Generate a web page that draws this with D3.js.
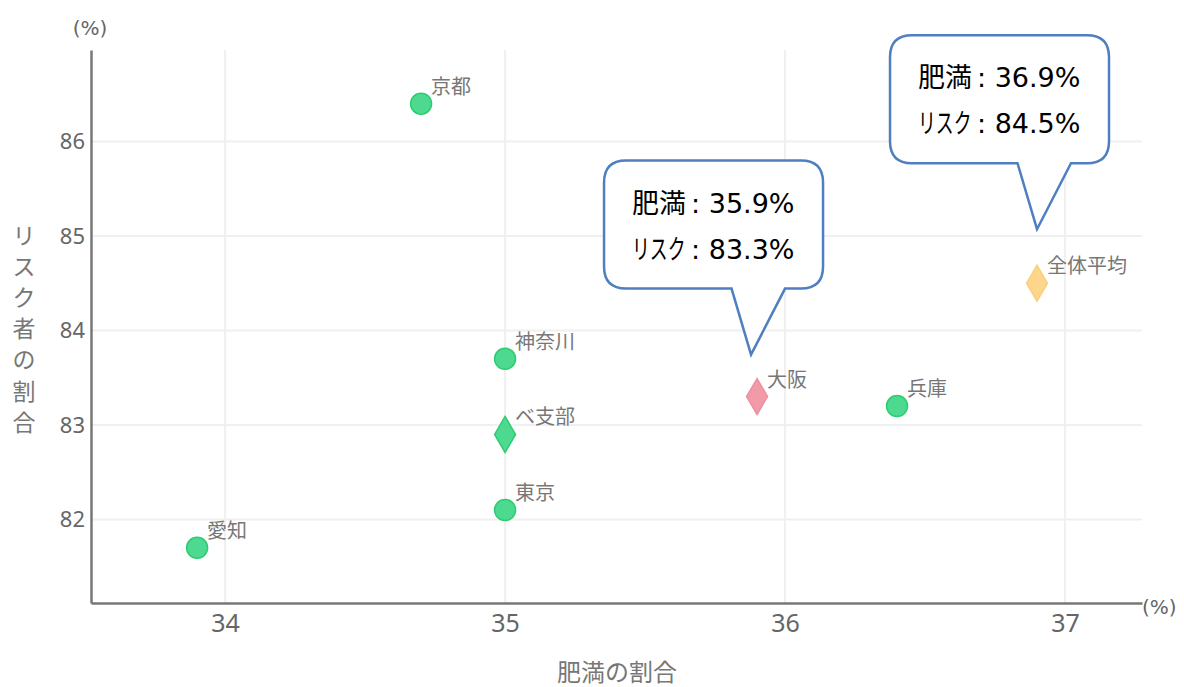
<!DOCTYPE html>
<html>
<head>
<meta charset="utf-8">
<script src="https://d3js.org/d3.v7.min.js"></script>
<style>
  body { margin: 0; background: #fff; }
  text { font-family: "Noto Sans CJK JP", "Noto Sans", sans-serif; }
</style>
</head>
<body>
<script>
// data
const names   = ['愛知', '京都', '神奈川', 'ベ支部', '東京', '大阪', '兵庫', '全体平均'];
const obesity = [33.9, 34.7, 35.0, 35.0, 35.0, 35.9, 36.4, 36.9];
const risk    = [81.7, 86.4, 83.7, 82.9, 82.1, 83.3, 83.2, 84.5];
const shapes  = ['circle', 'circle', 'circle', 'diamond', 'circle', 'diamond', 'circle', 'diamond'];
const fills   = ['#4dd990', '#4dd990', '#4dd990', '#4dd990', '#4dd990', '#f29ba8', '#4dd990', '#fdd68c'];
const strokes = ['#2ecc71', '#2ecc71', '#2ecc71', '#2ecc71', '#2ecc71', '#ee8fa0', '#2ecc71', '#fbcf80'];
const xTicks  = [34, 35, 36, 37];
const yTicks  = [82, 83, 84, 85, 86];
const callouts = ['大阪', '全体平均'];

const data = names.map((n, i) => ({name: n, x: obesity[i], y: risk[i], shape: shapes[i], fill: fills[i], stroke: strokes[i]}));

const width = 1184, height = 687;
const pLeft = 91, pRight = 1142, pTop = 50, pBottom = 603;

const svg = d3.select('body').append('svg')
  .attr('width', width).attr('height', height);

const x = d3.scaleLinear().domain([33.521, 37.275]).range([pLeft, pRight]);
const y = d3.scaleLinear().domain([81.116, 86.968]).range([pBottom, pTop]);

// grid
svg.append('g').selectAll('line').data(xTicks).enter().append('line')
  .attr('x1', d => x(d)).attr('x2', d => x(d))
  .attr('y1', pTop).attr('y2', pBottom)
  .attr('stroke', '#f0f0f0').attr('stroke-width', 2);
svg.append('g').selectAll('line').data(yTicks).enter().append('line')
  .attr('x1', pLeft).attr('x2', pRight)
  .attr('y1', d => y(d)).attr('y2', d => y(d))
  .attr('stroke', '#f0f0f0').attr('stroke-width', 2);

// axes
const xAxis = d3.axisBottom(x).tickValues(xTicks).tickFormat(d3.format('d')).tickSize(0).tickPadding(10);
const yAxis = d3.axisLeft(y).tickValues(yTicks).tickFormat(d3.format('d')).tickSize(0).tickPadding(6);

const gx = svg.append('g').attr('transform', `translate(0,${pBottom})`).call(xAxis);
const gy = svg.append('g').attr('transform', `translate(${pLeft},0)`).call(yAxis);
[gx, gy].forEach(g => {
  g.select('.domain').attr('stroke', '#777').attr('stroke-width', 2.5);
  g.selectAll('text').attr('fill', '#666')
    .style('font-family', '"Noto Sans", sans-serif');
});
gx.selectAll('text').style('font-size', '25px').attr('dy', '0.75em');
gy.selectAll('text').style('font-size', '22px');

// unit labels
svg.append('text').attr('x', 90).attr('y', 35).attr('text-anchor', 'middle')
  .attr('fill', '#666').style('font-size', '20px').style('font-family', '"DejaVu Sans", sans-serif').text('(%)');
svg.append('text').attr('x', 1142).attr('y', 614)
  .attr('fill', '#666').style('font-size', '20px').style('font-family', '"DejaVu Sans", sans-serif').text('(%)');

// axis titles
svg.append('text').attr('x', 617).attr('y', 681).attr('text-anchor', 'middle')
  .attr('fill', '#777').style('font-size', '24px').text('肥満の割合');
const yTitle = 'リスク者の割合'.split('');
svg.append('g').selectAll('text').data(yTitle).enter().append('text')
  .attr('x', 24).attr('y', (d, i) => 244 + i * 31.1)
  .attr('text-anchor', 'middle')
  .attr('fill', '#777').style('font-size', '23px').text(d => d);

// points
const pts = svg.append('g');
pts.selectAll('circle').data(data.filter(d => d.shape === 'circle')).enter().append('circle')
  .attr('cx', d => x(d.x)).attr('cy', d => y(d.y)).attr('r', 10.5)
  .attr('fill', d => d.fill).attr('stroke', d => d.stroke).attr('stroke-width', 1.5);
pts.selectAll('path').data(data.filter(d => d.shape === 'diamond')).enter().append('path')
  .attr('d', d => {
    const cx = x(d.x), cy = y(d.y);
    return `M${cx},${cy - 18}L${cx + 10.5},${cy}L${cx},${cy + 18}L${cx - 10.5},${cy}Z`;
  })
  .attr('fill', d => d.fill).attr('stroke', d => d.stroke).attr('stroke-width', 1.5);

// point labels
svg.append('g').selectAll('text').data(data).enter().append('text')
  .attr('x', d => x(d.x) + 10).attr('y', d => y(d.y) - 10)
  .attr('fill', '#777').style('font-size', '20px').text(d => d.name);

// callouts
const bw = 219, bh = 128, r = 22;
callouts.forEach(n => {
  const d = data.find(e => e.name === n);
  const tipX = x(d.x) - (n === '大阪' ? 6 : 0);
  const tipY = y(d.y) - (n === '大阪' ? 42 : 54);
  const bx = tipX - 147, by = tipY - 194;
  const t1 = tipX - 19.5, t2 = tipX + 34;
  const path = `M${bx + r},${by} H${bx + bw - r} Q${bx + bw},${by} ${bx + bw},${by + r}
    V${by + bh - r} Q${bx + bw},${by + bh} ${bx + bw - r},${by + bh}
    H${t2} L${tipX},${tipY} L${t1},${by + bh}
    H${bx + r} Q${bx},${by + bh} ${bx},${by + bh - r}
    V${by + r} Q${bx},${by} ${bx + r},${by} Z`;
  svg.append('path').attr('d', path)
    .attr('fill', '#fff').attr('stroke', '#4f7fc1').attr('stroke-width', 2.5);
  const tx = bx + 28;
  svg.append('text').attr('x', tx).attr('y', by + 52)
    .attr('fill', '#000').style('font-size', '27px').text('肥満');
  svg.append('text').attr('x', tx + 59).attr('y', by + 52)
    .attr('fill', '#000').style('font-size', '27px').style('font-family', '"DejaVu Sans", sans-serif')
    .text(`: ${d.x.toFixed(1)}%`);
  svg.append('text').attr('transform', `translate(${tx},${by + 98}) scale(0.66,1)`)
    .attr('fill', '#000').style('font-size', '27px').text('リスク');
  svg.append('text').attr('x', tx + 59).attr('y', by + 98)
    .attr('fill', '#000').style('font-size', '27px').style('font-family', '"DejaVu Sans", sans-serif')
    .text(`: ${d.y.toFixed(1)}%`);
});
</script>
</body>
</html>
